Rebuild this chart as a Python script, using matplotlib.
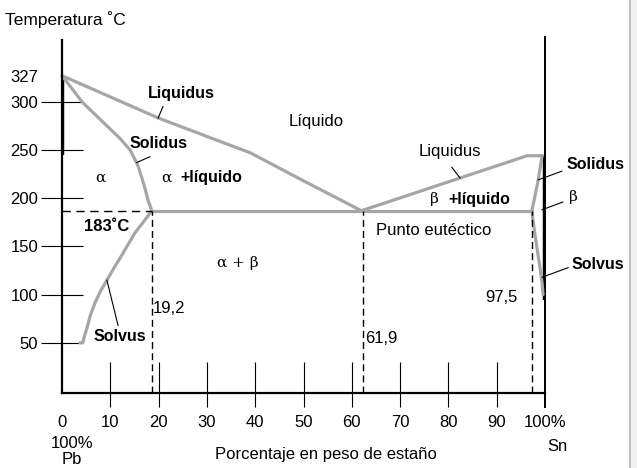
import matplotlib.pyplot as plt
from matplotlib.lines import Line2D
from matplotlib.patches import Rectangle

plt.rcParams['font.family'] = ['Liberation Sans', 'DejaVu Sans']

# phase boundaries: (% Sn, temperature C)
liq_left_x = [0, 20, 30, 39, 50, 62]
liq_left_t = [327, 283, 264, 247, 218, 187]
sol_left_x = [0, 4.3, 6.8, 9.5, 12.0, 14.1, 15.7, 16.6, 17.3, 17.8, 18.6]
sol_left_t = [327, 299, 287, 274, 262, 250, 234, 220, 208, 198, 187]
solv_left_x = [18.6, 16.8, 15.1, 13.8, 12.4, 10.8, 9.3, 7.9, 6.8, 5.9, 5.2, 4.6, 4.3, 3.7]
solv_left_t = [187, 175, 164, 153, 141, 128, 115, 103, 91, 79, 66, 56, 50, 50]
eut_x = [18.6, 97.3]
eut_t = [187, 187]
liq_right_x = [62, 96.3, 99.4]
liq_right_t = [187, 244, 244]
sol_right_x = [99.4, 98.6, 97.3]
sol_right_t = [244, 219, 187]
solv_right_x = [97.3, 97.5, 98.0, 98.5, 99.0, 99.4, 99.6]
solv_right_t = [187, 177, 160, 143, 127, 112, 100]

# compositions / temperature marked with dashed lines
marks_x = [18.6, 62.3, 97.3]
marks_lbl = ['19,2', '61,9', '97,5']
eut_temp = 187

xticks = [0, 10, 20, 30, 40, 50, 60, 70, 80, 90, 100]
xlabels = ['0', '10', '20', '30', '40', '50', '60', '70', '80', '90', '100%']
yticks = [50, 100, 150, 200, 250, 300, 327]

gray = '#a6a6a6'

fig = plt.figure(figsize=[6.37, 4.68], dpi=100)
ax = fig.add_axes([62/637, 1-393/468, 483/637, 353/468])
ax.set_xlim(0, 100)
ax.set_ylim(-2, 364)
ax.patch.set_alpha(0)

for s in ['top', 'right']:
    ax.spines[s].set_visible(False)
ax.spines['left'].set_linewidth(1.6)
ax.spines['bottom'].set_linewidth(1.6)

# y ticks cross the axis
ax.set_yticks(yticks)
ax.set_yticklabels([str(t) for t in yticks])
ax.tick_params(axis='y', direction='inout', length=30, width=0.8, pad=2, labelsize=12)
ax.yaxis.get_major_ticks()[-1].tick1line.set_visible(False)

# x ticks: labels only, marks drawn as short lines across the axis
ax.set_xticks(xticks)
ax.set_xticklabels(xlabels)
ax.tick_params(axis='x', length=0, pad=16, labelsize=12)
ax.vlines(xticks[1:-1], -16.6, 30, color='k', lw=0.8, clip_on=False)

# right axis line (100% Sn) and thick parts at the pure metals
ax.plot([100, 100], [-17, 367], color='k', lw=1.4, clip_on=False)
ax.plot([0, 0], [245, 327], color='k', lw=3.2, solid_capstyle='butt')
ax.plot([100, 100], [94, 245], color='k', lw=3.2, solid_capstyle='butt')

# phase boundaries
for bx, bt in [(liq_left_x, liq_left_t), (sol_left_x, sol_left_t),
               (solv_left_x, solv_left_t), (eut_x, eut_t),
               (liq_right_x, liq_right_t), (sol_right_x, sol_right_t),
               (solv_right_x, solv_right_t)]:
    ax.plot(bx, bt, color=gray, lw=2.3, solid_joinstyle='round',
            solid_capstyle='round', clip_on=False)

# dashed guides
for mx in marks_x:
    ax.plot([mx, mx], [-2, eut_temp], color='k', lw=1.0, dashes=(5, 3))
ax.plot([0, marks_x[0]], [eut_temp, eut_temp], color='k', lw=1.0, dashes=(6, 4))

ax.text(marks_x[0] + 0.2, 86, marks_lbl[0], fontsize=12, ha='left', va='center')
ax.text(marks_x[1] + 0.4, 55, marks_lbl[1], fontsize=12, ha='left', va='center')
ax.text(marks_x[2] - 3.0, 97.5, marks_lbl[2], fontsize=12, ha='right', va='center')

# region / boundary labels
bold = dict(fontsize=11.5, fontweight='bold', ha='center', va='center')
norm = dict(fontsize=12, ha='center', va='center')
greek = dict(family=['DejaVu Serif'], fontsize=11, ha='center', va='center')
lead = dict(color='k', lw=0.8, clip_on=False)

ax.text(24.8, 309, 'Liquidus', **bold)
ax.plot([19.9, 20.9], [283, 295], **lead)
ax.text(19.9, 257, 'Solidus', **bold)
ax.plot([15.5, 18.2], [237, 243], **lead)
ax.text(52.6, 279, 'Líquido', **norm)
ax.text(7.9, 221, 'α', **greek)
ax.text(21.6, 221, 'α', **greek)
ax.text(31.0, 221, '+líquido', **bold)
ax.text(9.3, 171, '183˚C', fontsize=12, fontweight='bold', ha='center', va='center')
ax.text(36.4, 133, 'α + β', **greek)
ax.text(12.0, 57, 'Solvus', **bold)
ax.plot([9.3, 11.6], [115, 68], **lead)

ax.text(80.3, 248, 'Liquidus', **norm)
ax.plot([82.4, 80.7], [221, 232], **lead)
ax.text(77.2, 199, 'β', **greek)
ax.text(86.3, 199, '+líquido', **bold)
ax.text(77.0, 167, 'Punto eutéctico', **norm)
ax.text(110.4, 235, 'Solidus', **bold)
ax.plot([98.6, 103.5], [219, 228], **lead)
ax.text(105.8, 201, 'β', **greek)
ax.plot([99.4, 103.7], [188, 196], **lead)
ax.text(111.0, 131, 'Solvus', **bold)
ax.plot([99.4, 104.8], [118, 128], **lead)

# axis titles
fig.text(5/637, 1-20/468, 'Temperatura ˚C', fontsize=12.5, ha='left', va='center')
ax.text(2.1, -54, '100%', **norm)
ax.text(2.1, -71, 'Pb', **norm)
ax.text(102.5, -57, 'Sn', **norm)
ax.text(54.7, -66, 'Porcentaje en peso de estaño', **norm)

# scanned page edge on the right
fig.add_artist(Rectangle((631/637, 0), 6/637, 1, transform=fig.transFigure,
                         facecolor='#f1f1f1', edgecolor='none'))
fig.add_artist(Line2D([630/637, 630/637], [0, 1], transform=fig.transFigure,
                      color='#c4c4c4', lw=1.5))

plt.savefig('out.png', dpi=100)
plt.close()
